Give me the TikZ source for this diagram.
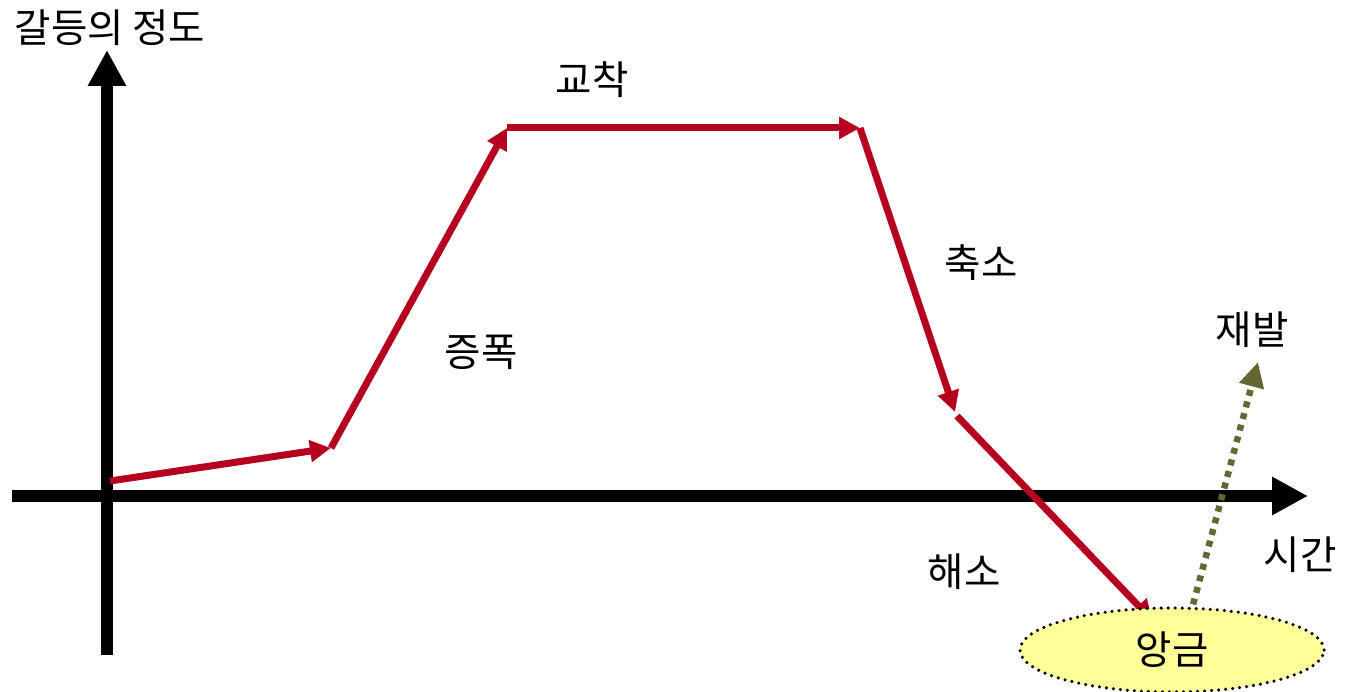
\documentclass[tikz,border=0pt]{standalone}
\usepackage{fontspec}
\setmainfont{Noto Sans CJK KR}
\usetikzlibrary{arrows.meta,positioning,shapes.geometric}
\definecolor{conflictred}{RGB}{181,0,31}
\definecolor{relapse}{RGB}{102,102,51}
\definecolor{residue}{RGB}{255,255,153}
\tikzset{>=latex}
\tikzset{
axisline/.style={line width=0.24cm,-{Triangle[length=0.72cm,width=0.72cm]}},
phase/.style={line width=0.14cm,conflictred,-{Triangle[length=0.42cm,width=0.42cm]}},
tag/.style={inner sep=0pt}
}

\begin{document}
\begin{tikzpicture}[font=\fontsize{22.5}{24}\selectfont]
		\useasboundingbox (0,0) rectangle (26.98,13.82);
		% axes
		\coordinate (ybot) at (2.14,0.72);
		\coordinate (ytop) at (2.14,12.82);
		\coordinate (xleft) at (0.24,3.9);
		\coordinate (xright) at (26.16,3.9);
		\draw[axisline] (ybot) -- (ytop);
		\draw[axisline] (xleft) -- (xright);
		\node[tag] (degree) at (2.2,13.26) {갈등의 정도};
		\node[tag] (time) at (26.0,2.72) {시간};
		
		% phases of the conflict
		\coordinate (start) at (2.2,4.2);
		\coordinate (rise) at (6.62,4.86);
		\coordinate (peak) at (10.14,11.26);
		\coordinate (plateau) at (17.2,11.26);
		\coordinate (drop) at (19.1,5.58);
		\coordinate (drop2) at (19.14,5.5);
		\coordinate (settle) at (23.06,1.4);
		
		\draw[phase] (start) -- (rise);
		\draw[phase] (rise) -- (peak);
		\draw[phase] (peak) -- (plateau);
		\draw[phase] (plateau) -- (drop);
		\draw[phase] (drop2) -- (settle);
		
		\node[tag] (escalate) at (9.62,6.78) {증폭};
		\node[tag] (deadlock) at (11.84,12.22) {교착};
		\node[tag] (shrink) at (19.62,8.56) {축소};
		\node[tag] (resolve) at (19.28,2.38) {해소};
		
		% relapse
		\coordinate (leftover) at (23.8,1.5);
		\coordinate (again) at (25.16,6.58);
		\draw[relapse,line width=0.13cm,dash pattern=on 0.12cm off 0.12cm,-{Triangle[length=0.5cm,width=0.48cm]}] (leftover) -- (again);
		\node[tag] (recur) at (25.04,7.22) {재발};
		
		\node[ellipse,draw,line width=2pt,dash pattern=on 0pt off 4pt,line cap=round,fill=residue,minimum width=6.08cm,minimum height=1.68cm] (grudge) at (23.44,0.82) {앙금};
	\end{tikzpicture}
\end{document}
